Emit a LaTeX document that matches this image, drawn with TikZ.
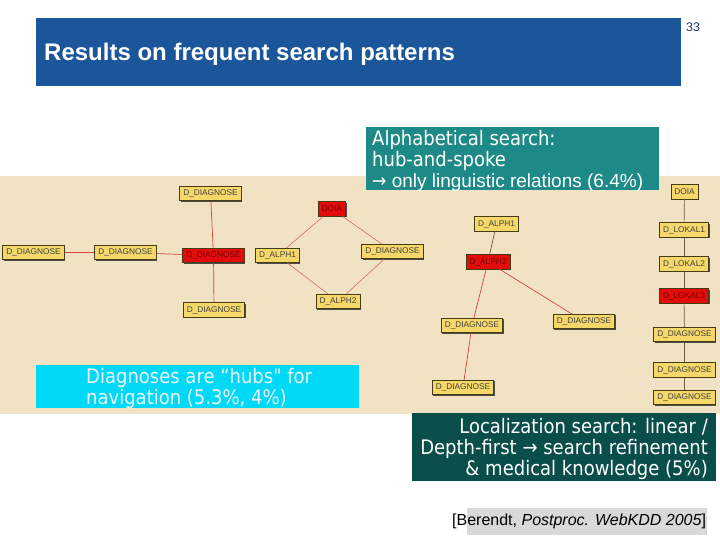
\documentclass[tikz,border=0pt]{standalone}
\usepackage{fontspec}
\setmainfont{Liberation Sans}
\newfontfamily\verd[FakeStretch=0.9]{DejaVu Sans}
\usetikzlibrary{shadows}
\definecolor{titlebar}{RGB}{27,85,154}
\definecolor{pagenum}{RGB}{31,56,100}
\definecolor{beige}{RGB}{241,226,196}
\definecolor{tealbox}{RGB}{30,138,135}
\definecolor{cyanbox}{RGB}{0,217,245}
\definecolor{darkbox}{RGB}{10,78,75}
\definecolor{citegray}{RGB}{217,217,217}
\definecolor{nodeyellow}{RGB}{246,216,106}
\definecolor{nodered}{RGB}{226,12,12}
\definecolor{nodeborder}{RGB}{70,60,20}
\definecolor{edgered}{RGB}{208,70,60}
\definecolor{edgesalmon}{RGB}{212,110,95}
\definecolor{edgedark}{RGB}{105,90,65}
\tikzset{
  x=1pt, y=-1pt,
  gnode/.style={draw=nodeborder, line width=0.6pt, fill=nodeyellow,
    font=\fontsize{8.3}{8.3}\selectfont, text=black!75, inner xsep=3.5pt,
    inner ysep=0pt, minimum height=14.5pt,
    drop shadow={shadow xshift=1pt, shadow yshift=-1pt, fill=black!70, opacity=1}},
  rnode/.style={gnode, fill=nodered, text=red!45!black},
  redge/.style={draw=edgered, line width=0.7pt},
  sedge/.style={draw=edgesalmon, line width=0.6pt},
  dedge/.style={draw=edgedark, line width=0.7pt},
  vtext/.style={text=white, font=\verd\fontsize{20}{21}\selectfont, inner sep=0pt},
}
\begin{document}
\begin{tikzpicture}
\useasboundingbox (0,0) rectangle (720,540);
\fill[white] (0,0) rectangle (720,540);
% title bar
\fill[titlebar] (36,18) rectangle (681,86);
\node[anchor=base west, text=white, font=\bfseries\fontsize{24}{24}\selectfont, inner sep=0pt] (title) at (44,61) {Results on frequent search patterns};
\node[anchor=base, text=pagenum, font=\fontsize{12.5}{12.5}\selectfont, inner sep=0pt] (pnum) at (693,32) {33};
% beige panel
\fill[beige] (0,176) rectangle (720,414);
% teal box
\fill[tealbox] (366,127) rectangle (659,190);
\node[vtext, anchor=base west] (t1) at (372,146) {Alphabetical search:};
\node[vtext, anchor=base west] (t2) at (372,167) {hub-and-spoke};
\node[anchor=base west, text=white, inner sep=0pt, font=\fontsize{19}{19}\selectfont] (t3) at (372,188) {{\verd →} only linguistic relations (6.4\%)};
% hub-and-spoke graph
\node[gnode] (a1) at (210.5,193.5) {D\_DIAGNOSE};
\node[gnode] (a2) at (33.5,252.5) {D\_DIAGNOSE};
\node[gnode] (a3) at (125.5,252.5) {D\_DIAGNOSE};
\node[rnode] (a4) at (213.5,255.5) {D\_DIAGNOSE};
\node[gnode] (a5) at (214,310) {D\_DIAGNOSE};
\node[rnode] (b1) at (332,209) {DOIA};
\node[gnode] (b2) at (277.5,255.5) {D\_ALPH1};
\node[gnode] (b3) at (392.5,251.5) {D\_DIAGNOSE};
\node[gnode] (b4) at (338,301.5) {D\_ALPH2};
\draw[redge] (a2) -- (a3);
\draw[redge] (a3) -- (a4);
\draw[redge] (a1) -- (a4);
\draw[redge] (a4) -- (a5);
\draw[sedge] (b1) -- (b2);
\draw[sedge] (b1) -- (b3);
\draw[sedge] (b2) -- (b4);
\draw[sedge] (b3) -- (b4);
% middle tree
\node[gnode] (c1) at (496.5,224) {D\_ALPH1};
\node[rnode] (c2) at (488,262) {D\_ALPH2};
\node[gnode] (c3) at (472,325.5) {D\_DIAGNOSE};
\node[gnode] (c4) at (584,321.5) {D\_DIAGNOSE};
\node[gnode] (c5) at (463,387.5) {D\_DIAGNOSE};
\draw[dedge] (c1) -- (c2);
\draw[redge] (c2) -- (c3);
\draw[redge] (c2) -- (c4);
\draw[redge] (c3) -- (c5);
% right chain
\node[gnode] (d1) at (684.5,192) {DOIA};
\node[gnode] (d2) at (684,230) {D\_LOKAL1};
\node[gnode] (d3) at (684,264) {D\_LOKAL2};
\node[rnode] (d4) at (684,296) {D\_LOKAL3};
\node[gnode] (d5) at (684.5,334.5) {D\_DIAGNOSE};
\node[gnode] (d6) at (684.5,370) {D\_DIAGNOSE};
\node[gnode] (d7) at (684.5,397.5) {D\_DIAGNOSE};
\draw[dedge] (d1) -- (d2);
\draw[dedge] (d2) -- (d3);
\draw[dedge] (d3) -- (d4);
\draw[dedge] (d4) -- (d5);
\draw[dedge] (d5) -- (d6);
\draw[dedge] (d6) -- (d7);
% cyan box
\fill[cyanbox] (36,365) rectangle (359,408);
\node[vtext, anchor=base west, text=white!92!cyan] (u1) at (86,383) {Diagnoses are “hubs" for};
\node[vtext, anchor=base west, text=white!92!cyan] (u2) at (86,404) {navigation (5.3\%, 4\%)};
% dark box
\fill[darkbox] (412,413) rectangle (716,481);
\node[vtext, anchor=base east] (l1) at (708,433) {Localization search: linear /};
\node[vtext, anchor=base east] (l2) at (708,454) {Depth-first → search refinement};
\node[vtext, anchor=base east] (l3) at (708,475) {\& medical knowledge (5\%)};
% citation
\fill[citegray] (467,508) rectangle (707,535);
\node[anchor=base west, inner sep=0pt, font=\fontsize{16}{16}\selectfont, text=black] (cite) at (452,525) {[Berendt, \textit{Postproc. WebKDD 2005}]};
\end{tikzpicture}
\end{document}
